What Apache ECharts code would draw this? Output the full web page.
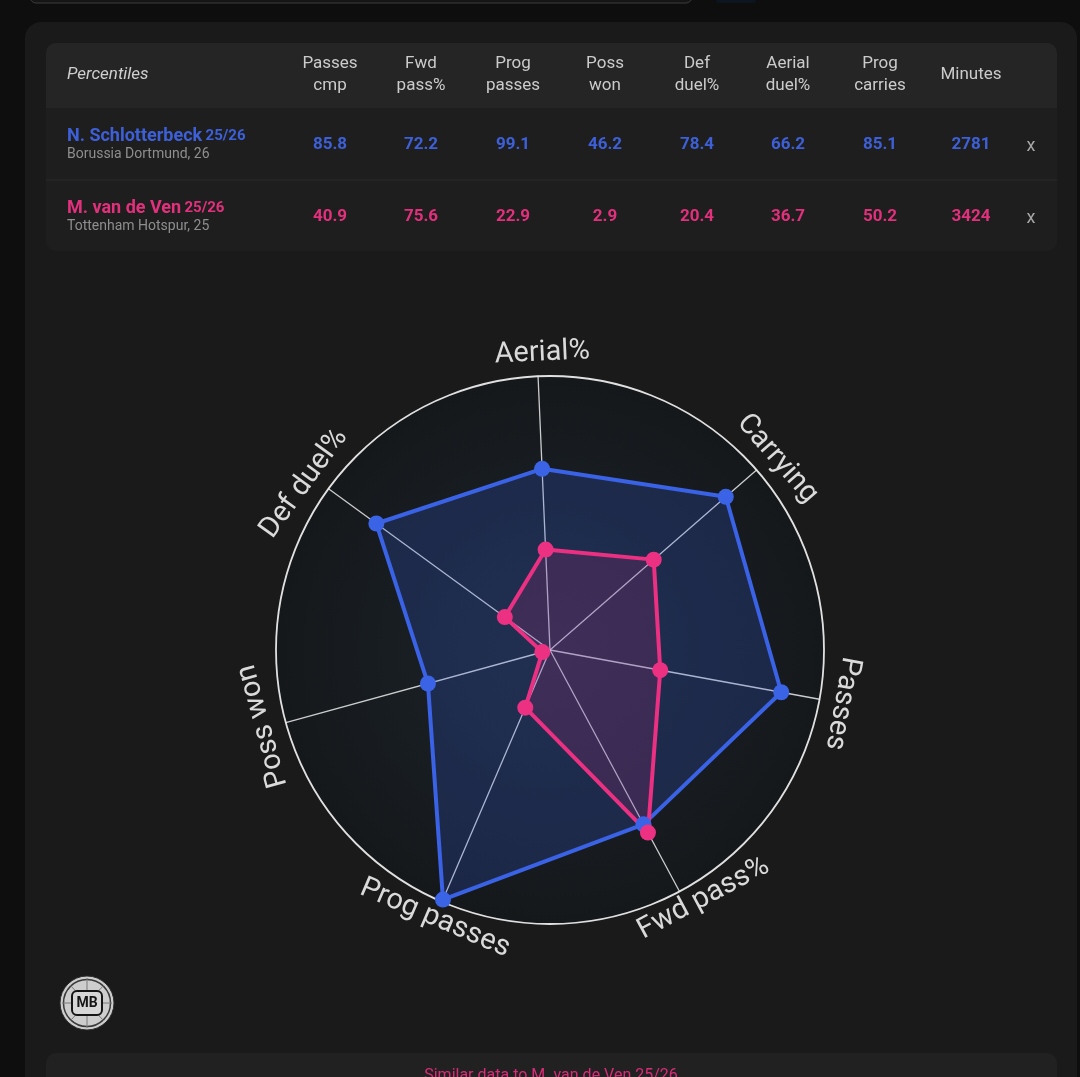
<!DOCTYPE html>
<html>
<head>
<meta charset="utf-8">
<script src="https://cdn.jsdelivr.net/npm/echarts@6/dist/echarts.min.js"></script>
<style>
html,body{margin:0;padding:0;background:#0e0e0e;}
#chart{width:1080px;height:1077px;}
</style>
</head>
<body>
<div id="chart"></div>
<script>
// ---------- DATA ----------
const columnHeaders = [['Passes','cmp'],['Fwd','pass%'],['Prog','passes'],['Poss','won'],['Def','duel%'],['Aerial','duel%'],['Prog','carries'],['Minutes']];
const playerNames = ['N. Schlotterbeck', 'M. van de Ven'];
const playerSeasons = ['25/26', '25/26'];
const playerClubs = ['Borussia Dortmund, 26', 'Tottenham Hotspur, 25'];
const schlotterbeckPct = [85.8, 72.2, 99.1, 46.2, 78.4, 66.2, 85.1];
const vanDeVenPct = [40.9, 75.6, 22.9, 2.9, 20.4, 36.7, 50.2];
const playerMinutes = [2781, 3424];
// radar axes, clockwise from the top, with the table column each one uses
const radarAxes = ['Aerial%', 'Carrying', 'Passes', 'Fwd pass%', 'Prog passes', 'Poss won', 'Def duel%'];
const radarColumn = [5, 6, 0, 1, 2, 3, 4];
const similarTitle = 'Similar data to M. van de Ven 25/26';

// ---------- STYLE / LAYOUT ----------
const BLUE = '#3b63e6', PINK = '#ec3183';
const TBLUE = '#3d60d8', TPINK = '#e2307c';
const FONT = 'Roboto, "Noto Sans", sans-serif';
const CX = 550, CY = 650, R = 274, START = 92.5;
const colX = [330, 421, 513, 605, 697, 788, 880, 971];
const rowY = [145, 217];
const labelAngleNudge = [-1, -1, 0, 3.5, 0, -0.5, 2]; // degrees, label placement only

const chart = echarts.init(document.getElementById('chart'), null, {renderer: 'canvas'});

// ECharts radar places indicators counter-clockwise: reverse after the first
const ccwIdx = [0].concat(radarAxes.map((_, i) => i).slice(1).reverse());
const series1 = ccwIdx.map(i => schlotterbeckPct[radarColumn[i]]);
const series2 = ccwIdx.map(i => vanDeVenPct[radarColumn[i]]);

const g = [];
// page / cards
g.push({type:'rect', z:-20, shape:{x:30, y:-20, width:662, height:23, r:6}, style:{fill:'#151515', stroke:'#3c3c3c', lineWidth:1}});
g.push({type:'rect', z:-20, shape:{x:716, y:-10, width:40, height:13, r:3}, style:{fill:'#0d1520'}});
g.push({type:'rect', z:-20, shape:{x:25, y:22, width:1052, height:1120, r:16}, style:{fill:'#1a1a1a'}});
g.push({type:'rect', z:-19, shape:{x:46, y:43, width:1011, height:208, r:10}, style:{fill:'#1e1e1e'}});
g.push({type:'rect', z:-18, shape:{x:46, y:43, width:1011, height:65, r:[10,10,0,0]}, style:{fill:'#252525'}});
g.push({type:'line', z:-18, shape:{x1:46, y1:180, x2:1057, y2:180}, style:{stroke:'#272727', lineWidth:1.5}});
g.push({type:'rect', z:-19, shape:{x:46, y:1053, width:1011, height:80, r:10}, style:{fill:'#212121'}});

// radar background
g.push({type:'circle', z:-15, shape:{cx:CX, cy:CY, r:R}, style:{
  fill: new echarts.graphic.RadialGradient(0.5, 0.5, 0.5, [
    {offset:0, color:'#1c242a'}, {offset:1, color:'#15181b'}])}});

// table header
g.push({type:'text', z:10, x:67, y:75, style:{text:'Percentiles', fill:'#cfcfcf', font:'italic 17px ' + FONT, verticalAlign:'middle'}});
columnHeaders.forEach((h, i) => {
  g.push({type:'text', z:10, x:colX[i], y:75, style:{text:h.join('\n'), fill:'#cbcbcb', font:'17px ' + FONT, align:'center', verticalAlign:'middle', lineHeight:22}});
});
// table rows
const rowsPct = [schlotterbeckPct, vanDeVenPct];
const rowCol = [TBLUE, TPINK];
rowsPct.forEach((vals, r) => {
  const y = rowY[r];
  g.push({type:'text', z:10, x:67, y:y - 9, style:{
    text:'{n|' + playerNames[r] + '} {s|' + playerSeasons[r] + '}',
    verticalAlign:'middle',
    rich:{n:{fill:rowCol[r], font:'bold 18px ' + FONT}, s:{fill:rowCol[r], font:'bold 15px ' + FONT}}}});
  g.push({type:'text', z:10, x:67, y:y + 9, style:{text:playerClubs[r], fill:'#8e8e8e', font:'14px ' + FONT, verticalAlign:'middle'}});
  vals.concat([playerMinutes[r]]).forEach((v, i) => {
    g.push({type:'text', z:10, x:colX[i], y:y, style:{text: i < 7 ? v.toFixed(1) : String(v), fill:rowCol[r], font:'bold 17px ' + FONT, align:'center', verticalAlign:'middle'}});
  });
  g.push({type:'text', z:10, x:1031, y:y + 1, style:{text:'x', fill:'#a8a8a8', font:'18px ' + FONT, align:'center', verticalAlign:'middle'}});
});

// rotated radar labels
radarAxes.forEach((name, i) => {
  let th = START - i * 360 / radarAxes.length;
  th = ((th % 360) + 360) % 360;
  let rot = th - 90;
  const flipped = th > 200 && th < 340;
  if (flipped) rot -= 180;
  const pa = (th + labelAngleNudge[i]) * Math.PI / 180;
  const lr = flipped ? 292 : 297;
  g.push({type:'text', z:10, x: CX + lr * Math.cos(pa), y: CY - lr * Math.sin(pa), rotation: rot * Math.PI / 180,
    style:{text:name, fill:'#dadada', font:'29px ' + FONT, align:'center', verticalAlign:'middle'}});
});

// logo
g.push({type:'circle', z:10, shape:{cx:87, cy:1003, r:27}, style:{fill:'#cdcdcd', stroke:'#2a2a2a', lineWidth:1}});
g.push({type:'circle', z:10, shape:{cx:87, cy:1003, r:23.5}, style:{fill:'none', stroke:'#3a3a3a', lineWidth:1.5}});
[[87,978,87,1028],[62,1003,112,1003],[70,985,104,1021],[104,985,70,1021]].forEach(l => {
  g.push({type:'line', z:10, shape:{x1:l[0], y1:l[1], x2:l[2], y2:l[3]}, style:{stroke:'#7a7a7a', lineWidth:1}});
});
g.push({type:'rect', z:11, shape:{x:72, y:991, width:30, height:24, r:5}, style:{fill:'#d6d6d6', stroke:'#151515', lineWidth:2}});
g.push({type:'text', z:12, x:87, y:1003.5, style:{text:'MB', fill:'#151515', font:'bold 14px ' + FONT, align:'center', verticalAlign:'middle'}});

// bottom card title (cut off by the window)
g.push({type:'text', z:10, x:551, y:1076, style:{text:similarTitle, fill:'#d92c78', font:'16px ' + FONT, align:'center', verticalAlign:'middle'}});

chart.setOption({
  backgroundColor:'#0e0e0e',
  animation:false,
  graphic: g,
  radar: {
    center:[CX, CY], radius:R, startAngle:START, shape:'circle', splitNumber:1,
    indicator: ccwIdx.map(i => ({name: radarAxes[i], min:0, max:100})),
    axisName:{show:false},
    axisLine:{show:true, lineStyle:{color:'rgba(235,235,235,0.85)', width:1.3}},
    splitLine:{show:true, lineStyle:{color:'#e0e0e0', width:1.8}},
    splitArea:{show:false},
    axisTick:{show:false}, axisLabel:{show:false}
  },
  series: [{
    type:'radar', z:3,
    symbol:'circle', symbolSize:16,
    data:[
      {value: series1, name: playerNames[0],
       lineStyle:{color:BLUE, width:4}, itemStyle:{color:BLUE}, areaStyle:{color:'rgba(50,95,230,0.30)'}},
      {value: series2, name: playerNames[1],
       lineStyle:{color:PINK, width:4}, itemStyle:{color:PINK}, areaStyle:{color:'rgba(230,45,130,0.22)'}}
    ]
  }]
});
</script>
</body>
</html>
